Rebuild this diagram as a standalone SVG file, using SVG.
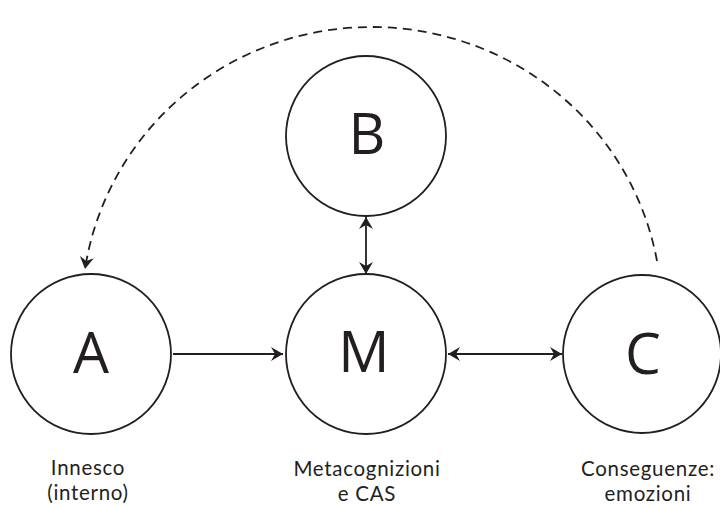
<svg xmlns="http://www.w3.org/2000/svg" width="720" height="505" viewBox="0 0 720 505">
<defs>
<marker id="ah" markerUnits="userSpaceOnUse" markerWidth="16" markerHeight="16" viewBox="-13 -8 16 16" refX="0" refY="0" orient="auto-start-reverse">
<path d="M0,0 L-12,-7 L-8,0 L-12,7 Z" fill="#231f20"/>
</marker>
</defs>
<style>
.node{fill:#fff;stroke:#231f20;stroke-width:1.8}
.big{font-family:"Open Sans","Liberation Sans",sans-serif;font-size:57px;fill:#231f20;text-anchor:middle}
.lbl{font-family:Lato,"Open Sans","Liberation Sans",sans-serif;font-size:20.5px;letter-spacing:0.7px;fill:#231f20;text-anchor:middle}
.con{fill:none;stroke:#231f20;stroke-width:1.8}
.dash{stroke-dasharray:9 6}
</style>
<g id="connectors">
<line class="con" x1="173" y1="354" x2="283" y2="354" marker-end="url(#ah)"/>
<line class="con" x1="448" y1="354" x2="562" y2="354" marker-start="url(#ah)" marker-end="url(#ah)"/>
<line class="con" x1="366" y1="217" x2="366" y2="274" marker-start="url(#ah)" marker-end="url(#ah)"/>
<path class="con dash" d="M657,261 A290,285 0 0 0 85,269" marker-end="url(#ah)"/>
</g>
<g id="node-A">
<circle class="node" cx="91" cy="354" r="80"/>
<text class="big" x="91" y="373">A</text>
<text class="lbl" x="88" y="475">Innesco</text>
<text class="lbl" x="88" y="500">(interno)</text>
</g>
<g id="node-M">
<circle class="node" cx="366" cy="354" r="80"/>
<text class="big" x="364" y="372">M</text>
<text class="lbl" x="367" y="476">Metacognizioni</text>
<text class="lbl" x="367" y="501">e CAS</text>
</g>
<g id="node-B">
<circle class="node" cx="366" cy="136" r="80"/>
<text class="big" x="367" y="154">B</text>
</g>
<g id="node-C">
<circle class="node" cx="642" cy="354" r="79"/>
<text class="big" x="643" y="374">C</text>
<text class="lbl" x="648" y="476">Conseguenze:</text>
<text class="lbl" x="648" y="501">emozioni</text>
</g>
</svg>
